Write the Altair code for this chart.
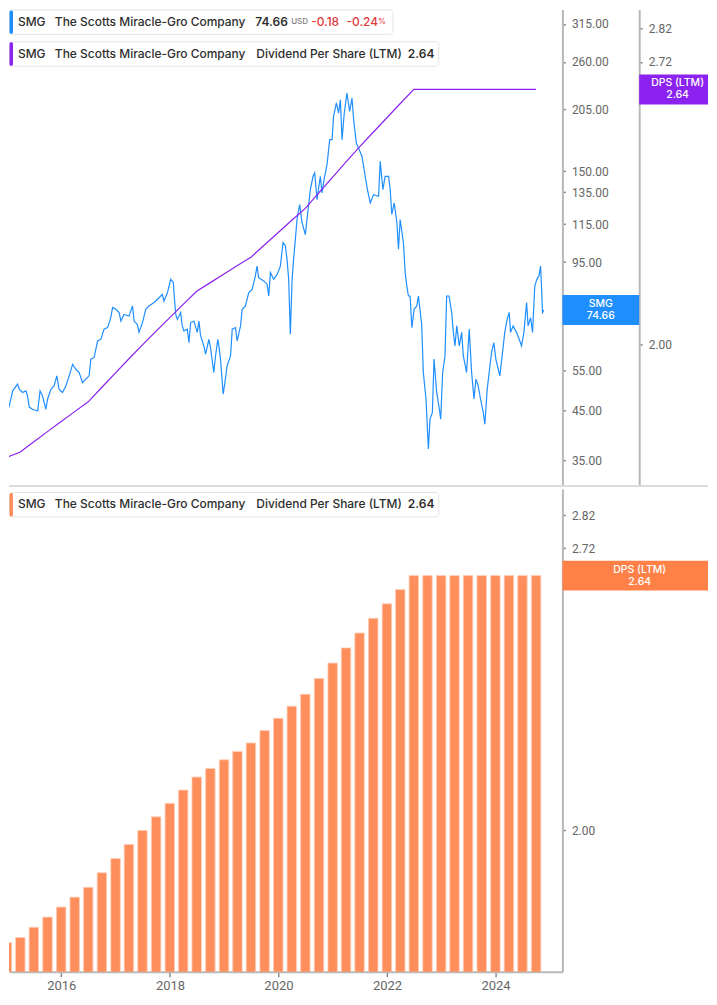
import altair as alt
import pandas as pd

# ---------------- data ----------------
# SMG close price: decimal-year time and price (USD)
price_t = [2014.890, 2014.950, 2015.013, 2015.042, 2015.105, 2015.197, 2015.226, 2015.289, 2015.350, 2015.380,
           2015.410, 2015.470, 2015.565, 2015.610, 2015.656, 2015.717, 2015.748, 2015.809, 2015.870, 2015.919,
           2015.961, 2016.024, 2016.085, 2016.145, 2016.208, 2016.268, 2016.329, 2016.392, 2016.452, 2016.513,
           2016.544, 2016.605, 2016.667, 2016.728, 2016.789, 2016.851, 2016.912, 2016.943, 2017.004, 2017.064,
           2017.096, 2017.156, 2017.248, 2017.310, 2017.340, 2017.402, 2017.432, 2017.494, 2017.555, 2017.616,
           2017.708, 2017.770, 2017.862, 2017.891, 2017.954, 2018.015, 2018.064, 2018.075, 2018.107, 2018.138,
           2018.199, 2018.230, 2018.260, 2018.322, 2018.351, 2018.382, 2018.443, 2018.505, 2018.535, 2018.566,
           2018.627, 2018.658, 2018.719, 2018.750, 2018.810, 2018.842, 2018.884, 2018.903, 2018.934, 2018.983,
           2019.007, 2019.057, 2019.118, 2019.149, 2019.210, 2019.241, 2019.302, 2019.333, 2019.393, 2019.454,
           2019.517, 2019.577, 2019.608, 2019.638, 2019.730, 2019.792, 2019.822, 2019.853, 2019.914, 2019.976,
           2020.037, 2020.086, 2020.129, 2020.160, 2020.189, 2020.221, 2020.252, 2020.281, 2020.313, 2020.344,
           2020.392, 2020.436, 2020.496, 2020.539, 2020.588, 2020.638, 2020.667, 2020.711, 2020.772, 2020.803,
           2020.851, 2020.895, 2020.943, 2020.987, 2021.016, 2021.066, 2021.108, 2021.140, 2021.171, 2021.213,
           2021.262, 2021.310, 2021.354, 2021.384, 2021.434, 2021.476, 2021.538, 2021.599, 2021.641, 2021.691,
           2021.752, 2021.844, 2021.875, 2021.925, 2021.967, 2022.028, 2022.059, 2022.090, 2022.132, 2022.182,
           2022.211, 2022.242, 2022.303, 2022.335, 2022.366, 2022.395, 2022.426, 2022.458, 2022.500, 2022.550,
           2022.579, 2022.641, 2022.671, 2022.720, 2022.763, 2022.794, 2022.836, 2022.868, 2022.917, 2022.965,
           2022.990, 2023.027, 2023.070, 2023.101, 2023.143, 2023.193, 2023.222, 2023.254, 2023.285, 2023.333,
           2023.377, 2023.406, 2023.468, 2023.517, 2023.560, 2023.603, 2023.640, 2023.682, 2023.726, 2023.774,
           2023.805, 2023.847, 2023.884, 2023.928, 2023.970, 2024.007, 2024.050, 2024.080, 2024.130, 2024.172,
           2024.215, 2024.252, 2024.277, 2024.325, 2024.387, 2024.435, 2024.480, 2024.522, 2024.572, 2024.601,
           2024.645, 2024.682, 2024.724, 2024.761, 2024.798, 2024.829, 2024.847, 2024.866, 2024.890]
price_v = [44.9, 46.5, 47.0, 46.1, 49.7, 51.4, 50.1, 49.3, 49.7, 48.4,
           45.8, 45.3, 44.9, 49.7, 48.4, 45.3, 47.7, 50.1, 51.0, 53.6,
           50.1, 49.3, 51.0, 53.6, 56.8, 55.4, 54.5, 51.8, 52.7, 53.6,
           58.3, 58.8, 63.9, 64.4, 67.8, 68.3, 71.8, 75.6, 74.9, 73.7,
           70.6, 73.0, 72.4, 76.2, 70.6, 69.4, 66.7, 70.0, 74.9, 76.2,
           77.5, 78.8, 80.7, 78.1, 81.4, 87.1, 85.7, 81.6, 73.0, 71.2,
           73.7, 68.9, 67.2, 67.8, 63.3, 70.0, 70.6, 66.7, 70.6, 65.6,
           62.3, 59.8, 64.4, 61.8, 54.5, 59.3, 64.4, 62.3, 58.3, 48.9,
           51.0, 56.4, 59.3, 67.8, 68.3, 63.9, 68.9, 74.9, 76.2, 81.4,
           82.8, 88.6, 93.1, 87.8, 86.4, 84.9, 80.1, 90.1, 87.1, 89.3,
           93.1, 104.8, 103.0, 96.3, 87.1, 66.1, 87.1, 96.3, 106.5, 117.7,
           126.9, 115.8, 109.1, 121.8, 136.8, 146.3, 148.8, 130.1, 146.3, 134.6,
           146.3, 155.1, 175.9, 175.9, 197.8, 211.6, 201.1, 215.1, 175.9, 201.1,
           222.5, 202.8, 216.9, 194.5, 173.0, 168.7, 161.8, 146.3, 136.8, 128.0,
           133.4, 132.3, 157.7, 136.8, 146.3, 146.3, 136.8, 120.7, 128.0, 115.8,
           101.3, 117.7, 104.8, 90.1, 84.2, 80.1, 80.1, 68.3, 74.9, 76.2,
           80.1, 69.4, 54.5, 47.7, 37.1, 43.1, 44.6, 58.3, 49.3, 45.3,
           43.1, 54.5, 59.3, 80.1, 80.1, 73.7, 66.7, 62.3, 68.9, 62.3,
           66.7, 59.3, 54.5, 67.8, 54.5, 47.7, 52.7, 51.0, 47.7, 44.6,
           42.0, 50.1, 54.5, 60.3, 63.3, 58.3, 55.4, 53.6, 60.3, 66.7,
           71.2, 73.7, 66.7, 68.9, 66.7, 64.4, 62.3, 66.7, 77.5, 68.9,
           71.8, 66.7, 84.2, 87.1, 88.6, 93.1, 82.8, 73.7, 74.66]

# Dividend per share (LTM), quarterly from Dec 2014 to Sep 2024
dps_v = [1.77, 1.78, 1.80, 1.82, 1.84, 1.86, 1.88, 1.91, 1.94, 1.97,
         2.00, 2.03, 2.06, 2.09, 2.12, 2.14, 2.16, 2.18, 2.20, 2.23,
         2.26, 2.29, 2.32, 2.36, 2.40, 2.44, 2.48, 2.52, 2.56, 2.60,
         2.64, 2.64, 2.64, 2.64, 2.64, 2.64, 2.64, 2.64, 2.64, 2.64]
quarter_ends = ["12-31", "03-31", "06-30", "09-30"]
dps_dates = [f"{2014 + (i + 3) // 4}-{quarter_ends[i % 4]}" for i in range(len(dps_v))]

price_ticks = [35, 45, 55, 75, 95, 115, 135, 150, 205, 260, 315]
dps_ticks = [2.00, 2.72, 2.82]
year_ticks = [2016, 2018, 2020, 2022, 2024]

ticker = "SMG"
company = "The Scotts Miracle-Gro Company"
metric = "Dividend Per Share (LTM)"
last_price = 74.66
chg = -0.18
chg_pct = -0.24
last_dps = dps_v[-1]

BLUE = "#1f8fff"
PURPLE = "#8b22f0"
ORANGE = "#fe8e5c"
ORANGE_BOX = "#ff8148"
RED = "#e23b3b"
TXT = "#2e2e2e"


def to_date(t):
    y = int(t)
    s = pd.Timestamp(year=y, month=1, day=1)
    e = pd.Timestamp(year=y + 1, month=1, day=1)
    return (s + (e - s) * (t - y)).strftime("%Y-%m-%d")


price_df = pd.DataFrame({"date": [to_date(t) for t in price_t], "price": price_v})
dps_df = pd.DataFrame({"date": dps_dates, "dps": dps_v})
one = pd.DataFrame({"k": [0]})

W, H1, H2 = 555, 478, 484

xsc = alt.Scale(domain=[alt.DateTime(year=2015, month=1, date=14),
                        alt.DateTime(year=2025, month=3, date=26)], padding=0, nice=False)

axis_style = dict(title=None, grid=False, domainColor="#b8b8b8", domainWidth=2,
                  tickColor="#8a8a8a", tickSize=3, tickWidth=1.5,
                  labelColor="#666666", labelFont="Roboto", labelFontSize=12,
                  labelPadding=6, labelOverlap=False, format=".2f")

price_axis = alt.Axis(orient="right", values=price_ticks, **axis_style)
dps_axis_top = alt.Axis(orient="right", offset=77, values=dps_ticks, **axis_style)
dps_axis_bottom = alt.Axis(orient="right", values=dps_ticks, **axis_style)

price_scale = alt.Scale(type="log", domain=[30.78, 338.8], nice=False)
dps_scale_top = alt.Scale(type="log", domain=[1.7155, 2.880], nice=False)
dps_scale_bottom = alt.Scale(type="log", domain=[1.715, 2.901], nice=False)


def rect(x, x2, y, y2, **kw):
    return alt.Chart(one).mark_rect(**kw).encode(
        x=alt.value(x), x2=alt.value(x2), y=alt.value(y), y2=alt.value(y2))


def txt(s, x, y, **kw):
    props = dict(font="Inter", fontSize=12, fontWeight=500, color=TXT,
                 align="left", baseline="middle")
    props.update(kw)
    return alt.Chart(one).mark_text(text=s, **props).encode(x=alt.value(x), y=alt.value(y))


def header(y0, color, tail):
    parts = [rect(0.5, tail[0], y0 + 0.5, y0 + 25, fill="white", stroke="#e4e4e4", strokeWidth=1,
                  cornerRadius=3),
             rect(0.5, 4, y0 + 1, y0 + 24.5, fill=color, cornerRadius=1.5),
             txt(ticker, 9, y0 + 12.5),
             txt(company, 46, y0 + 12.5)]
    parts += [txt(s, x, y0 + 12.5, **kw) for (s, x, kw) in tail[1]]
    return parts


def value_box(value, color, x0, x1, scale, axis):
    return alt.Chart(one).mark_rect(color=color, yOffset=-15, y2Offset=15).encode(
        x=alt.value(x0), x2=alt.value(x1),
        y=alt.YDatum(value, type="quantitative", scale=scale, axis=axis),
        y2=alt.Y2Datum(value))


def value_text(s, value, xc, dy, scale, axis):
    return alt.Chart(one).mark_text(text=s, color="white", font="Inter", fontSize=10.5, fontWeight=500,
                                    align="center", baseline="middle", dy=dy).encode(
        x=alt.value(xc), y=alt.YDatum(value, type="quantitative", scale=scale, axis=axis))


# ---------------- top panel ----------------
price_line = alt.Chart(price_df).mark_line(color=BLUE, strokeWidth=1.2, clip=True).encode(
    x=alt.X("date:T", scale=xsc, axis=None),
    y=alt.Y("price:Q", scale=price_scale, axis=price_axis))
smg_layers = [price_line,
              value_box(last_price, BLUE, W, W + 77, price_scale, price_axis),
              value_text(ticker, last_price, W + 38.5, -6, price_scale, price_axis),
              value_text(f"{last_price:.2f}", last_price, W + 38.5, 6, price_scale, price_axis)]

dps_line = alt.Chart(dps_df).mark_line(color=PURPLE, strokeWidth=1.2, clip=True).encode(
    x=alt.X("date:T", scale=xsc, axis=None),
    y=alt.Y("dps:Q", scale=dps_scale_top, axis=dps_axis_top))
dps_layers = [dps_line,
              value_box(last_dps, PURPLE, W + 77, W + 146, dps_scale_top, dps_axis_top),
              value_text("DPS (LTM)", last_dps, W + 115.5, -6, dps_scale_top, dps_axis_top),
              value_text(f"{last_dps:.2f}", last_dps, W + 115.5, 6, dps_scale_top, dps_axis_top)]

sep = alt.Chart(one).mark_rule(color="#dcdcdc", strokeWidth=2).encode(
    x=alt.value(0), x2=alt.value(W + 146), y=alt.value(H1))

h1 = header(0, BLUE, (385, [
    (f"{last_price:.2f}", 247, dict(fontWeight=600)),
    ("USD", 283, dict(fontSize=8, color="#7a7a7a")),
    (f"{chg:.2f}", 303, dict(color=RED)),
    (f"{chg_pct:.2f}", 338.5, dict(color=RED)),
    ("%", 370, dict(fontSize=8, color=RED)),
]))
h2 = header(32, PURPLE, (431, [
    (metric, 248, {}),
    (f"{last_dps:.2f}", 400, dict(fontWeight=600)),
]))

top = alt.layer(
    alt.layer(*smg_layers),
    alt.layer(*dps_layers),
    sep, *h1, *h2,
).resolve_scale(y="independent").properties(width=W, height=H1)

# ---------------- bottom panel ----------------
bars = alt.Chart(dps_df).mark_bar(color=ORANGE, size=9.5, stroke="#ffcfb9", strokeWidth=0.8,
                                  clip=True).encode(
    x=alt.X("date:T", scale=xsc,
            axis=alt.Axis(values=[alt.DateTime(year=y, month=1, date=1) for y in year_ticks],
                          format="%Y", title=None, grid=False, domainColor="#b8b8b8", domainWidth=2,
                          tickColor="#8a8a8a", tickSize=5, tickWidth=1.5, labelColor="#666666",
                          labelFont="Roboto", labelFontSize=13, labelPadding=3, labelFlush=False)),
    y=alt.Y("dps:Q", scale=dps_scale_bottom, axis=dps_axis_bottom),
    y2=alt.Y2Datum(1.5))
h3 = header(3, ORANGE, (431, [
    (metric, 248, {}),
    (f"{last_dps:.2f}", 400, dict(fontWeight=600)),
]))

bottom = alt.layer(
    bars,
    value_box(last_dps, ORANGE_BOX, W, W + 146, dps_scale_bottom, dps_axis_bottom),
    value_text("DPS (LTM)", last_dps, W + 77.5, -6, dps_scale_bottom, dps_axis_bottom),
    value_text(f"{last_dps:.2f}", last_dps, W + 77.5, 6, dps_scale_bottom, dps_axis_bottom),
    *h3,
).properties(width=W, height=H2)

chart = alt.vconcat(top, bottom, spacing=2).resolve_scale(
    x="independent", y="independent").properties(padding=0).configure_view(stroke=None)

chart.save("out.html", embed_options={"renderer": "svg", "actions": False})
